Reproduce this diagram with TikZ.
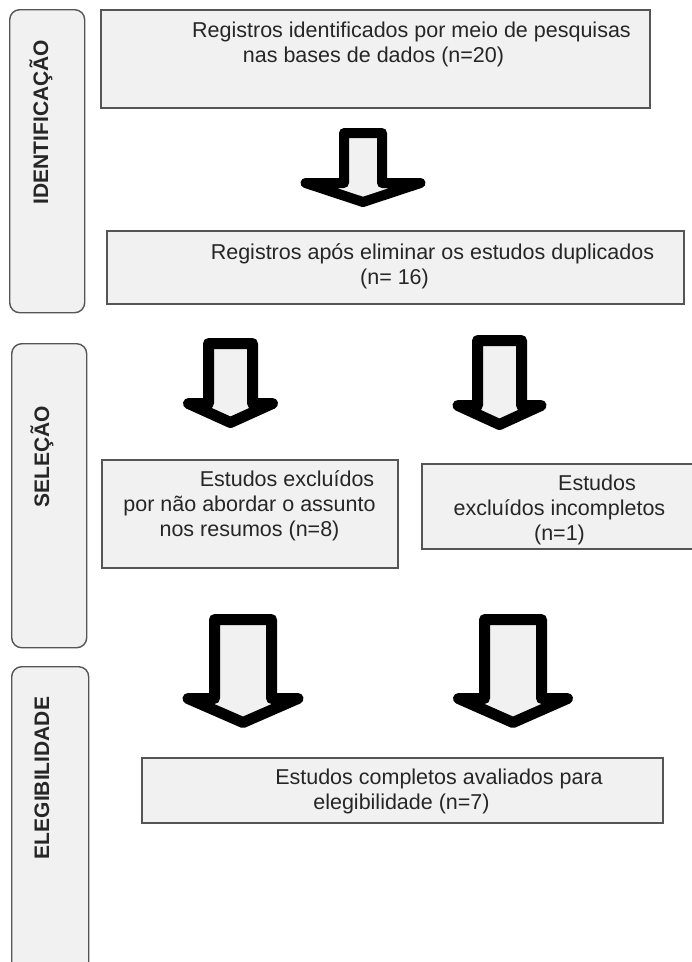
\documentclass[tikz,border=0pt]{standalone}
\usepackage{fontspec}
\setmainfont{Liberation Sans}
\definecolor{boxfill}{HTML}{F1F1F1}
\definecolor{boxline}{HTML}{555555}
\definecolor{txtcol}{HTML}{262626}
% #1 cx, #2 top, #3 stem half width, #4 wing y, #5 wing half width, #6 tip y, #7 stroke
\newcommand\blockarrowdraw[7]{%
  \draw[blockarr, line width=#7pt] (#1-#3,#2) -- (#1+#3,#2) -- (#1+#3,#4) -- (#1+#5,#4)
    -- (#1,#6) -- (#1-#5,#4) -- (#1-#3,#4) -- cycle;}
\tikzset{
  box/.style={draw=boxline, fill=boxfill, line width=1.6pt, inner sep=0pt, anchor=north west},
  phase/.style={draw=boxline, fill=boxfill, line width=1.4pt, rounded corners=10pt, inner sep=0pt, anchor=north west},
  txt/.style={text=txtcol, align=center, inner sep=0pt, font=\fontsize{21.5}{25}\selectfont},
  phasetxt/.style={text=txtcol, rotate=90, inner sep=0pt, font=\bfseries\fontsize{21}{25}\selectfont},
  blockarr/.style={draw=black, fill=boxfill, line join=round}
}
\begin{document}
\begin{tikzpicture}[x=1pt, y=-1pt]
\useasboundingbox (0,0) rectangle (692,962);
% phase boxes
\node[phase, minimum width=75pt, minimum height=303pt] (p1) at (9,9) {};
\node[phase, minimum width=75pt, minimum height=304pt] (p2) at (11,343) {};
\node[phase, minimum width=77pt, minimum height=320pt] (p3) at (11,666) {};
\node[phasetxt] (l1) at (41,122) {IDENTIFICAÇÃO};
\node[phasetxt] (l2) at (42,457) {SELEÇÃO};
\node[phasetxt] (l3) at (42,778) {ELEGIBILIDADE};
% boxes
\node[box, minimum width=549pt, minimum height=98pt] (b1) at (100,9) {};
\node[box, minimum width=577pt, minimum height=73pt] (b2) at (106,230) {};
\node[box, minimum width=296pt, minimum height=108pt] (b3) at (101,459) {};
\node[box, minimum width=290pt, minimum height=85pt] (b4) at (421,463) {};
\node[box, minimum width=521pt, minimum height=65pt] (b5) at (141,757) {};
% texts
\node[txt] (t1) at (373.5,44) {\hspace*{76pt}Registros identificados por meio de pesquisas\\nas bases de dados (n=20)};
\node[txt] (t2) at (394.5,266) {\hspace*{76pt}Registros após eliminar os estudos duplicados\\(n= 16)};
\node[txt] (t3) at (249.5,506) {\hspace*{75pt}Estudos excluídos\\por não abordar o assunto\\nos resumos (n=8)};
\node[txt] (t4) at (559.5,510) {\hspace*{75pt}Estudos\\excluídos incompletos\\(n=1)};
\node[txt] (t5) at (401.5,791) {\hspace*{75pt}Estudos completos avaliados para\\elegibilidade (n=7)};
% block arrows
\blockarrowdraw{363}{133}{19}{183}{57.5}{202}{10}
\blockarrowdraw{230.5}{343.5}{22}{403.5}{42}{422.5}{11}
\blockarrowdraw{499.5}{340.5}{22}{405.5}{41.5}{424.5}{11}
\blockarrowdraw{243}{619.5}{28.5}{698.5}{55}{722.5}{11}
\blockarrowdraw{513}{619.5}{28.5}{698.5}{54.5}{722.5}{11}
\end{tikzpicture}
\end{document}
